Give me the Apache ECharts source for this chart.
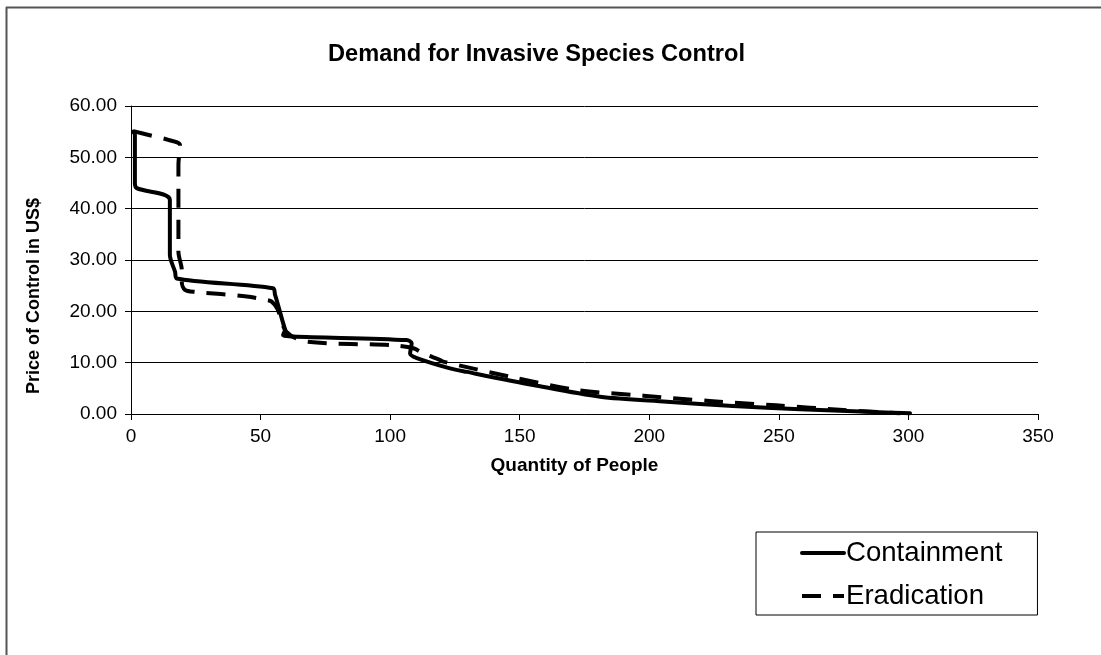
<!DOCTYPE html>
<html>
<head>
<meta charset="utf-8">
<script src="https://cdn.jsdelivr.net/npm/echarts@6/dist/echarts.min.js"></script>
<style>
html,body{margin:0;padding:0;background:#fff;}
#chart{width:1101px;height:655px;}
</style>
</head>
<body>
<div id="chart"></div>
<script>
const titleText = 'Demand for Invasive Species Control';
const xAxisName = 'Quantity of People';
const yAxisName = 'Price of Control in US$';
const seriesNames = ['Containment', 'Eradication'];

const containmentQty   = [0.8, 1.5, 1.5, 2.2, 15.0, 15.0, 17.0, 17.6, 54.8, 55.6, 56.2, 58.7, 59.4, 58.7, 62.5, 106.4, 108.3, 107.7, 110.3, 123.1, 129.6, 155.2, 181.0, 206.8, 232.3, 258.2, 284.0, 300.6];
const containmentPrice = [55.0, 54.4, 45.0, 44.0, 41.7, 31.0, 27.7, 26.4, 24.5, 23.2, 22.2, 17.7, 16.4, 15.4, 15.1, 14.4, 13.8, 11.8, 10.9, 8.9, 8.2, 5.65, 3.37, 2.4, 1.56, 0.92, 0.45, 0.14];

const eradicationQty   = [0.9, 8.0, 14.4, 18.9, 18.3, 18.3, 19.6, 19.6, 20.8, 24.7, 44.7, 52.4, 54.3, 56.5, 60.0, 67.8, 101.2, 109.0, 112.8, 119.3, 120.5, 146.3, 172.0, 197.7, 223.3, 249.0, 274.9, 296.8];
const eradicationPrice = [55.1, 54.2, 53.4, 52.4, 48.5, 31.6, 28.0, 25.7, 24.2, 23.8, 22.9, 22.2, 21.9, 20.5, 16.0, 14.1, 13.4, 12.8, 11.8, 10.5, 10.2, 7.27, 4.68, 3.57, 2.53, 1.69, 0.78, 0.14];

const xTicks = {min: 0, max: 350, interval: 50};
const yTicks = {min: 0, max: 60, interval: 10};

function zip(a, b) { return a.map((v, i) => [v, b[i]]); }

const chart = echarts.init(document.getElementById('chart'), null, {renderer: 'canvas'});
const FONT = '"Liberation Sans", Arial, sans-serif';

chart.setOption({
  animation: false,
  backgroundColor: '#fff',
  textStyle: {fontFamily: FONT},
  title: {
    text: titleText,
    left: 323, top: 37,
    textStyle: {fontFamily: FONT, fontSize: 23.6, fontWeight: 'bold', color: '#000'}
  },
  graphic: [
    {type: 'line', shape: {x1: 6, y1: 7.5, x2: 1101, y2: 7.5}, style: {stroke: '#555', lineWidth: 2}, silent: true},
    {type: 'line', shape: {x1: 6.5, y1: 7, x2: 6.5, y2: 655}, style: {stroke: '#555', lineWidth: 2}, silent: true}
  ],
  grid: {left: 131, right: 63, top: 106, bottom: 241, containLabel: false},
  legend: {
    orient: 'vertical',
    left: 756, top: 532,
    data: seriesNames,
    itemWidth: 42, itemHeight: 28, itemGap: 15,
    padding: [7, 35, 5, 44],
    borderColor: '#000', borderWidth: 1,
    itemStyle: {opacity: 0},
    lineStyle: {width: 4},
    textStyle: {fontFamily: FONT, fontSize: 27.6, lineHeight: 28, color: '#000', padding: [0, 0, 0, -3]}
  },
  xAxis: {
    type: 'value', min: xTicks.min, max: xTicks.max, interval: xTicks.interval,
    name: xAxisName, nameLocation: 'middle', nameGap: 42,
    nameTextStyle: {fontFamily: FONT, fontSize: 19, fontWeight: 'bold', color: '#000', padding: [0, 20, 0, 0]},
    axisLine: {show: true, onZero: false, lineStyle: {color: '#000', width: 1}},
    axisTick: {show: true, inside: false, length: 6, lineStyle: {color: '#000'}},
    axisLabel: {fontFamily: FONT, fontSize: 19, color: '#000', margin: 13},
    splitLine: {show: false}
  },
  yAxis: {
    type: 'value', min: yTicks.min, max: yTicks.max, interval: yTicks.interval,
    name: yAxisName, nameLocation: 'middle', nameGap: 88,
    nameTextStyle: {fontFamily: FONT, fontSize: 18, fontWeight: 'bold', color: '#000', padding: [0, 72, 0, 0]},
    axisLine: {show: true, lineStyle: {color: '#000', width: 1}},
    axisTick: {show: true, inside: false, length: 6, lineStyle: {color: '#000'}},
    axisLabel: {fontFamily: FONT, fontSize: 19, color: '#000', margin: 14, formatter: v => v.toFixed(2)},
    splitLine: {show: true, lineStyle: {color: '#000', width: 1}}
  },
  series: [
    {
      name: seriesNames[0], type: 'line', data: zip(containmentQty, containmentPrice),
      showSymbol: false, symbol: 'none', smooth: 0.3,
      lineStyle: {color: '#000', width: 4, type: 'solid', cap: 'round', join: 'round'},
      itemStyle: {color: '#000'}
    },
    {
      name: seriesNames[1], type: 'line', data: zip(eradicationQty, eradicationPrice),
      showSymbol: false, symbol: 'none', smooth: 0.3,
      lineStyle: {color: '#000', width: 4, type: [19, 12], cap: 'butt', join: 'round'},
      itemStyle: {color: '#000'}
    }
  ]
});
</script>
</body>
</html>
